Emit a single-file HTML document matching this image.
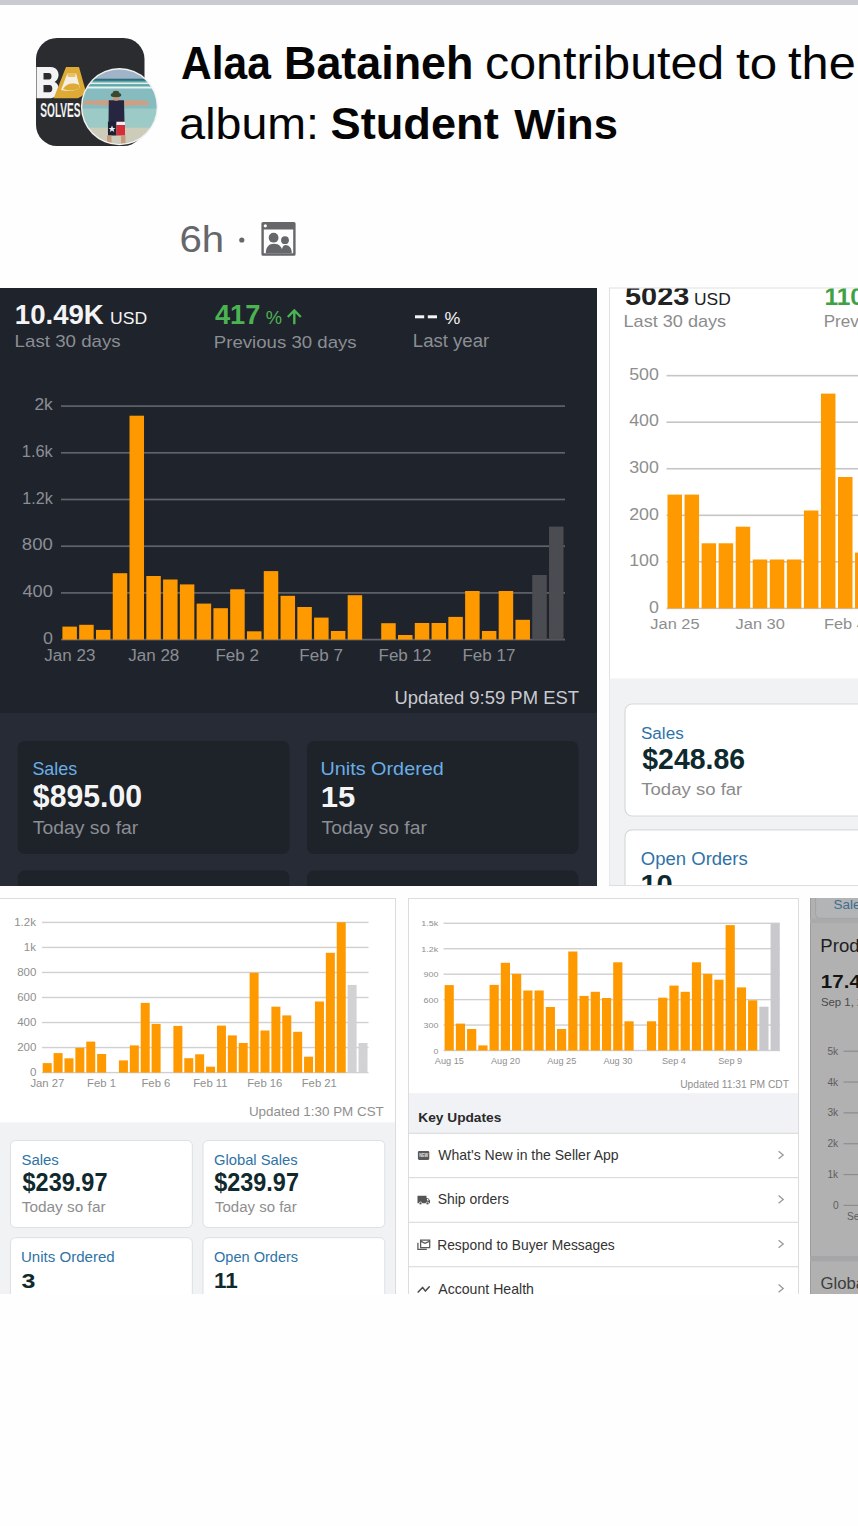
<!DOCTYPE html><html><head><meta charset="utf-8"><style>
html,body{margin:0;padding:0;width:858px;height:1526px;overflow:hidden;background:#fefefe;font-family:"Liberation Sans", sans-serif;}
svg{position:absolute;left:0;top:0;}
text{font-family:"Liberation Sans", sans-serif;}
</style></head><body>
<svg width="858" height="1526" viewBox="0 0 858 1526">
<rect x="0" y="0" width="858" height="5" fill="#c9cbd1"/>

<g id="avatar">
<rect x="36" y="38" width="108.5" height="108" rx="21" fill="#2b2c2f"/>
<path d="M36.5 67 H50.5 C57.5 67 59 73 58.5 76 C58 79 56.5 81 54.5 82 C57.5 83 59 86.5 58.6 90 C58 95 55 98.3 49 98.3 H36.5Z M43.5 73 V79.5 H49 C51 79.5 51.5 78 51.5 76.3 C51.5 74.5 50.8 73 49 73Z M43.5 85 V92.3 H49.5 C51.8 92.3 52.3 90.5 52.3 88.6 C52.3 86.6 51.5 85 49.5 85Z" fill="#f3f3f3" fill-rule="evenodd"/>
<path d="M53.7 98.3 L66 67 H79 L86 92 L82 96 L78 98.3Z" fill="#dcaa35"/>
<path d="M61 90 L67.5 73 H76 L80 88 C76 91 66 91.5 61 90Z" fill="#f4efe2"/>
<path d="M63 89 C66 84 72 82 79 85 L80 88.5 C74 91 67 91 63 89Z" fill="#dcaa35"/>
<path d="M67 73 H76 L75 77 H68Z" fill="#e6c06a"/>
<text transform="translate(40.30,117.10) scale(0.5094,1)" font-size="19.86" font-weight="bold" fill="#f2f2f2" >SOLVES</text>
<circle cx="119.5" cy="106.7" r="38.6" fill="#f2f2f2"/>
<clipPath id="cp1"><circle cx="119.5" cy="106.7" r="37.2"/></clipPath>
<filter id="soft" x="-5%" y="-5%" width="110%" height="110%"><feGaussianBlur stdDeviation="0.55"/></filter>
<g clip-path="url(#cp1)"><g filter="url(#soft)">
<rect x="80" y="66" width="80" height="82" fill="#98c6c6"/>
<rect x="80" y="66" width="80" height="13" fill="#9fb4c8"/>
<rect x="80" y="78.7" width="80" height="2.2" fill="#2f6d79"/>
<rect x="80" y="80.9" width="80" height="7.6" fill="#5ea8a9"/>
<rect x="80" y="82.5" width="80" height="1.6" fill="#e4eeee"/>
<rect x="80" y="86.5" width="80" height="2.2" fill="#e8f1ef"/>
<rect x="80" y="88.7" width="80" height="20" fill="#86bcbf"/>
<rect x="80" y="108.7" width="80" height="19" fill="#9ccac6"/>
<rect x="80" y="127.6" width="80" height="20" fill="#cdcbb9"/>
<path d="M83 101 C95 100 105 100 112 100.5 L126 100.5 C135 100 145 100.5 149 101.5 L148.5 105 C140 105.5 130 105 125 106 L112 106 C105 105.5 95 104.5 83.5 104.5Z" fill="#cf9f84"/>
<path d="M108.8 100.2 H124 L124.5 122.7 H108.5Z" fill="#25283f"/>
<path d="M107.9 121.8 H116.5 V135.5 H108Z" fill="#1f2236"/>
<path d="M116.5 121.8 H125 L125 135.5 H116.5Z" fill="#d52f39"/>
<path d="M116.5 121.8 H125 V125 H116.5Z" fill="#f2f0f0"/>
<path d="M112 125.5 L113 128 L115.5 128 L113.5 129.5 L114.3 132 L112 130.5 L109.8 132 L110.6 129.5 L108.6 128 L111 128Z" fill="#f0f0f0"/>
<rect x="107" y="135.5" width="4.5" height="8" fill="#c79a7e"/>
<rect x="121" y="135.5" width="4.5" height="8" fill="#c79a7e"/>
<ellipse cx="116.2" cy="97.8" rx="3.4" ry="3" fill="#c79a7e"/>
<ellipse cx="116" cy="95" rx="5.3" ry="2.2" fill="#3b4a30"/>
<ellipse cx="116" cy="93" rx="3.3" ry="2.2" fill="#3b4a30"/>
</g></g>
</g>
<text transform="translate(181.04,78.80) scale(0.9345,1)" font-size="45.52" font-weight="bold" fill="#050505" >Alaa</text>
<text transform="translate(283.98,78.80) scale(0.9856,1)" font-size="45.52" font-weight="bold" fill="#050505" >Bataineh</text>
<text transform="translate(485.02,78.80) scale(1.0624,1)" font-size="45.52" font-weight="normal" fill="#050505" >contributed</text>
<text transform="translate(736.06,78.80) scale(1.0950,1)" font-size="45.08" font-weight="normal" fill="#050505" >to</text>
<text transform="translate(788.07,78.80) scale(1.0688,1)" font-size="45.52" font-weight="normal" fill="#050505" >the</text>
<text transform="translate(179.31,138.50) scale(1.0476,1)" font-size="44.41" font-weight="normal" fill="#050505" >album:</text>
<text transform="translate(330.54,138.50) scale(1.0175,1)" font-size="44.41" font-weight="bold" fill="#050505" >Student</text>
<text transform="translate(514.30,138.50) scale(1.0318,1)" font-size="42.21" font-weight="bold" fill="#050505" >Wins</text>
<text transform="translate(179.39,252.00) scale(1.0998,1)" font-size="36.55" font-weight="normal" fill="#65676b" >6h</text>
<circle cx="241.8" cy="240" r="2.6" fill="#65676b"/>
<g id="albumicon" fill="#65676b">
<path d="M261.4 223.5 Q261.4 222 263 222 H294 Q295.6 222 295.6 223.5 V254.2 Q295.6 255.7 294 255.7 H263 Q261.4 255.7 261.4 254.2 Z M263.8 229.6 V253.3 H293.2 V229.6 Z" fill-rule="evenodd"/>
<circle cx="265.3" cy="225.8" r="1.6" fill="#fdfdfd"/>
<circle cx="273.6" cy="237.7" r="4.9"/><circle cx="285" cy="240.2" r="3.9"/>
<path d="M265.8 253.3 C265.8 247 269 243.8 274 243.8 C279 243.8 282.6 247 282.6 253.3Z"/>
<path d="M281.6 253.3 C281.6 248 283 245 285.5 245 C289 245 291.8 248 291.8 253.3Z"/>
</g>
<svg x="0" y="288" width="597" height="598"><g transform="translate(0,-288)">
<rect x="0" y="288" width="597" height="598" fill="#1f232b"/>
<rect x="0" y="713" width="597" height="173" fill="#262b35"/>
<text transform="translate(14.81,323.80) scale(1.0272,1)" font-size="26.86" font-weight="bold" fill="#f4f4f5" >10.49K</text>
<text transform="translate(110.08,323.80) scale(1.0434,1)" font-size="16.86" font-weight="normal" fill="#f4f4f5" >USD</text>
<text transform="translate(14.60,347.20) scale(1.1035,1)" font-size="16.97" font-weight="normal" fill="#8b8e94" >Last 30 days</text>
<text transform="translate(214.89,324.30) scale(0.9910,1)" font-size="27.54" font-weight="bold" fill="#4cb353" >417</text>
<text transform="translate(265.86,324.30) scale(1.0171,1)" font-size="17.99" font-weight="normal" fill="#4cb353" >%</text>
<path d="M294.3 310.5 V324.3 M287.8 317 L294.3 310.5 L300.8 317" stroke="#4cb353" stroke-width="2.4" fill="none"/>
<text transform="translate(213.81,347.50) scale(1.0802,1)" font-size="17.24" font-weight="normal" fill="#8b8e94" >Previous 30 days</text>
<rect x="415" y="315.3" width="9.2" height="3" fill="#f4f4f5"/><rect x="427.8" y="315.3" width="9.2" height="3" fill="#f4f4f5"/>
<text transform="translate(444.58,324.00) scale(1.0227,1)" font-size="17.41" font-weight="normal" fill="#f4f4f5" >%</text>
<text transform="translate(412.81,347.40) scale(1.0509,1)" font-size="17.68" font-weight="normal" fill="#8b8e94" >Last year</text>
<rect x="61" y="405.25" width="504" height="1.7" fill="#606369"/>
<rect x="61" y="451.95" width="504" height="1.7" fill="#606369"/>
<rect x="61" y="498.65" width="504" height="1.7" fill="#606369"/>
<rect x="61" y="545.35" width="504" height="1.7" fill="#606369"/>
<rect x="61" y="592.05" width="504" height="1.7" fill="#606369"/>
<rect x="61" y="638.75" width="504" height="1.7" fill="#606369"/>
<text transform="translate(34.43,409.90) scale(1.0978,1)" font-size="15.86" font-weight="normal" fill="#8b8e94" >2k</text>
<text transform="translate(21.77,456.80) scale(1.0262,1)" font-size="16.00" font-weight="normal" fill="#8b8e94" >1.6k</text>
<text transform="translate(22.19,503.50) scale(1.0212,1)" font-size="15.86" font-weight="normal" fill="#8b8e94" >1.2k</text>
<text transform="translate(21.86,550.00) scale(1.1326,1)" font-size="16.43" font-weight="normal" fill="#8b8e94" >800</text>
<text transform="translate(22.44,596.80) scale(1.1760,1)" font-size="15.57" font-weight="normal" fill="#8b8e94" >400</text>
<text transform="translate(42.98,643.90) scale(1.0988,1)" font-size="16.29" font-weight="normal" fill="#8b8e94" >0</text>
<rect x="62.40" y="626.60" width="14.5" height="13.00" fill="#ff9900"/>
<rect x="79.18" y="624.80" width="14.5" height="14.80" fill="#ff9900"/>
<rect x="95.96" y="629.90" width="14.5" height="9.70" fill="#ff9900"/>
<rect x="112.74" y="573.20" width="14.5" height="66.40" fill="#ff9900"/>
<rect x="129.52" y="415.70" width="14.5" height="223.90" fill="#ff9900"/>
<rect x="146.30" y="576.00" width="14.5" height="63.60" fill="#ff9900"/>
<rect x="163.08" y="579.50" width="14.5" height="60.10" fill="#ff9900"/>
<rect x="179.86" y="584.40" width="14.5" height="55.20" fill="#ff9900"/>
<rect x="196.64" y="603.60" width="14.5" height="36.00" fill="#ff9900"/>
<rect x="213.42" y="608.20" width="14.5" height="31.40" fill="#ff9900"/>
<rect x="230.20" y="589.30" width="14.5" height="50.30" fill="#ff9900"/>
<rect x="246.98" y="631.30" width="14.5" height="8.30" fill="#ff9900"/>
<rect x="263.76" y="571.10" width="14.5" height="68.50" fill="#ff9900"/>
<rect x="280.54" y="595.80" width="14.5" height="43.80" fill="#ff9900"/>
<rect x="297.32" y="607.00" width="14.5" height="32.60" fill="#ff9900"/>
<rect x="314.10" y="617.60" width="14.5" height="22.00" fill="#ff9900"/>
<rect x="330.88" y="631.00" width="14.5" height="8.60" fill="#ff9900"/>
<rect x="347.66" y="595.20" width="14.5" height="44.40" fill="#ff9900"/>
<rect x="381.22" y="623.20" width="14.5" height="16.40" fill="#ff9900"/>
<rect x="398.00" y="635.00" width="14.5" height="4.60" fill="#ff9900"/>
<rect x="414.78" y="623.00" width="14.5" height="16.60" fill="#ff9900"/>
<rect x="431.56" y="623.00" width="14.5" height="16.60" fill="#ff9900"/>
<rect x="448.34" y="616.90" width="14.5" height="22.70" fill="#ff9900"/>
<rect x="465.12" y="591.00" width="14.5" height="48.60" fill="#ff9900"/>
<rect x="481.90" y="631.00" width="14.5" height="8.60" fill="#ff9900"/>
<rect x="498.68" y="591.00" width="14.5" height="48.60" fill="#ff9900"/>
<rect x="515.46" y="619.80" width="14.5" height="19.80" fill="#ff9900"/>
<rect x="532.24" y="575.00" width="14.5" height="64.60" fill="#4b4c51"/>
<rect x="549.02" y="526.60" width="14.5" height="113.00" fill="#4b4c51"/>
<text transform="translate(44.34,660.70) scale(1.0944,1)" font-size="15.57" font-weight="normal" fill="#8b8e94" >Jan 23</text>
<text transform="translate(128.20,660.70) scale(1.0944,1)" font-size="15.57" font-weight="normal" fill="#8b8e94" >Jan 28</text>
<text transform="translate(215.42,660.70) scale(1.0944,1)" font-size="15.57" font-weight="normal" fill="#8b8e94" >Feb 2</text>
<text transform="translate(299.32,660.70) scale(1.0944,1)" font-size="15.57" font-weight="normal" fill="#8b8e94" >Feb 7</text>
<text transform="translate(378.50,660.70) scale(1.0944,1)" font-size="15.57" font-weight="normal" fill="#8b8e94" >Feb 12</text>
<text transform="translate(462.40,660.70) scale(1.0944,1)" font-size="15.57" font-weight="normal" fill="#8b8e94" >Feb 17</text>
<text transform="translate(394.52,703.60) scale(0.9833,1)" font-size="18.76" font-weight="normal" fill="#c9cbd0" >Updated 9:59 PM EST</text>
<rect x="17.7" y="741" width="271.8" height="113" rx="7" fill="#1e2229"/>
<rect x="17.7" y="870.6" width="271.8" height="40" rx="7" fill="#1e2229"/>
<rect x="307" y="741" width="271.4" height="113" rx="7" fill="#1e2229"/>
<rect x="307" y="870.6" width="271.4" height="40" rx="7" fill="#1e2229"/>
<text transform="translate(32.39,775.00) scale(0.9609,1)" font-size="18.62" font-weight="normal" fill="#6aaee6" >Sales</text>
<text transform="translate(32.85,806.80) scale(0.9518,1)" font-size="31.76" font-weight="bold" fill="#f4f4f5" >$895.00</text>
<text transform="translate(32.72,833.90) scale(1.1069,1)" font-size="17.52" font-weight="normal" fill="#8b8e94" >Today so far</text>
<text transform="translate(320.51,775.00) scale(1.0635,1)" font-size="18.62" font-weight="normal" fill="#6aaee6" >Units Ordered</text>
<text transform="translate(320.78,806.80) scale(1.0512,1)" font-size="29.57" font-weight="bold" fill="#f4f4f5" >15</text>
<text transform="translate(321.52,833.90) scale(1.1048,1)" font-size="17.52" font-weight="normal" fill="#8b8e94" >Today so far</text>
</g></svg>
<rect x="609.5" y="288" width="260" height="597.5" fill="#ffffff" stroke="#e0e0e0" stroke-width="1"/>
<svg x="609.5" y="288.5" width="260" height="597"><g transform="translate(-609.5,-288.5)">
<rect x="609" y="678.4" width="260" height="208" fill="#f1f2f4"/>
<text transform="translate(625.03,305.20) scale(1.1235,1)" font-size="25.71" font-weight="bold" fill="#222222" >5023</text>
<text transform="translate(693.99,305.20) scale(1.0614,1)" font-size="16.43" font-weight="normal" fill="#222222" >USD</text>
<text transform="translate(623.55,327.00) scale(1.1222,1)" font-size="16.14" font-weight="normal" fill="#8c8c8c" >Last 30 days</text>
<text transform="translate(824.41,305.20) scale(1.0000,1)" font-size="24.50" font-weight="bold" fill="#3fa145" >110</text>
<text transform="translate(823.63,327.20) scale(1.0300,1)" font-size="16.60" font-weight="normal" fill="#8c8c8c" >Previous 30 days</text>
<rect x="666.5" y="374.85" width="200" height="1.6" fill="#c6c6c6"/>
<rect x="666.5" y="421.40" width="200" height="1.6" fill="#c6c6c6"/>
<rect x="666.5" y="467.95" width="200" height="1.6" fill="#c6c6c6"/>
<rect x="666.5" y="514.50" width="200" height="1.6" fill="#c6c6c6"/>
<rect x="666.5" y="561.05" width="200" height="1.6" fill="#c6c6c6"/>
<rect x="666.5" y="607.60" width="200" height="1.6" fill="#c6c6c6"/>
<text transform="translate(629.19,379.85) scale(1.1426,1)" font-size="15.57" font-weight="normal" fill="#8e8e8e" >500</text>
<text transform="translate(629.19,426.40) scale(1.1426,1)" font-size="15.57" font-weight="normal" fill="#8e8e8e" >400</text>
<text transform="translate(629.19,472.95) scale(1.1426,1)" font-size="15.57" font-weight="normal" fill="#8e8e8e" >300</text>
<text transform="translate(629.19,519.50) scale(1.1426,1)" font-size="15.57" font-weight="normal" fill="#8e8e8e" >200</text>
<text transform="translate(629.19,566.05) scale(1.1426,1)" font-size="15.57" font-weight="normal" fill="#8e8e8e" >100</text>
<text transform="translate(648.94,612.60) scale(1.1426,1)" font-size="15.57" font-weight="normal" fill="#8e8e8e" >0</text>
<rect x="667.50" y="494.60" width="14.5" height="113.80" fill="#ff9900"/>
<rect x="684.55" y="494.60" width="14.5" height="113.80" fill="#ff9900"/>
<rect x="701.60" y="543.30" width="14.5" height="65.10" fill="#ff9900"/>
<rect x="718.65" y="543.30" width="14.5" height="65.10" fill="#ff9900"/>
<rect x="735.70" y="526.70" width="14.5" height="81.70" fill="#ff9900"/>
<rect x="752.75" y="559.50" width="14.5" height="48.90" fill="#ff9900"/>
<rect x="769.80" y="559.50" width="14.5" height="48.90" fill="#ff9900"/>
<rect x="786.85" y="559.50" width="14.5" height="48.90" fill="#ff9900"/>
<rect x="803.90" y="510.50" width="14.5" height="97.90" fill="#ff9900"/>
<rect x="820.95" y="393.60" width="14.5" height="214.80" fill="#ff9900"/>
<rect x="838.00" y="477.00" width="14.5" height="131.40" fill="#ff9900"/>
<rect x="855.05" y="552.60" width="14.5" height="55.80" fill="#ff9900"/>
<text transform="translate(650.35,629.00) scale(1.1367,1)" font-size="14.43" font-weight="normal" fill="#8e8e8e" >Jan 25</text>
<text transform="translate(735.60,629.00) scale(1.1367,1)" font-size="14.43" font-weight="normal" fill="#8e8e8e" >Jan 30</text>
<text transform="translate(823.89,629.00) scale(1.1367,1)" font-size="14.43" font-weight="normal" fill="#8e8e8e" >Feb 4</text>
<rect x="625" y="704" width="260" height="112" rx="7" fill="#ffffff" stroke="#d6d9dc" stroke-width="1.2"/>
<rect x="625" y="829.8" width="260" height="100" rx="7" fill="#ffffff" stroke="#d6d9dc" stroke-width="1.2"/>
<text transform="translate(640.93,738.50) scale(1.0166,1)" font-size="16.83" font-weight="normal" fill="#2f72a8" >Sales</text>
<text transform="translate(642.27,768.70) scale(0.9567,1)" font-size="29.73" font-weight="bold" fill="#0f2a2e" >$248.86</text>
<text transform="translate(641.24,795.00) scale(1.0678,1)" font-size="17.38" font-weight="normal" fill="#8a8a8a" >Today so far</text>
<text transform="translate(640.87,864.50) scale(0.9654,1)" font-size="19.17" font-weight="normal" fill="#2f72a8" >Open Orders</text>
<text transform="translate(640.41,893.90) scale(1.0761,1)" font-size="27.00" font-weight="bold" fill="#0f2a2e" >10</text>
</g></svg>
<rect x="609" y="885" width="249" height="1" fill="#dedede"/>
<svg x="0" y="898" width="396" height="396"><g transform="translate(0,-898)">
<rect x="-1" y="898.5" width="396.5" height="400" fill="#ffffff" stroke="#dcdcdc" stroke-width="1"/>
<rect x="0" y="1122.4" width="395" height="180" fill="#f0f2f4"/>
<rect x="42" y="921.70" width="326.5" height="1.4" fill="#d0d0d0"/>
<rect x="42" y="946.73" width="326.5" height="1.4" fill="#d0d0d0"/>
<rect x="42" y="971.76" width="326.5" height="1.4" fill="#d0d0d0"/>
<rect x="42" y="996.79" width="326.5" height="1.4" fill="#d0d0d0"/>
<rect x="42" y="1021.82" width="326.5" height="1.4" fill="#d0d0d0"/>
<rect x="42" y="1046.85" width="326.5" height="1.4" fill="#d0d0d0"/>
<rect x="42" y="1071.88" width="326.5" height="1.4" fill="#d0d0d0"/>
<text transform="translate(14.13,925.90) scale(1.0610,1)" font-size="10.86" font-weight="normal" fill="#8f8f8f" >1.2k</text>
<text transform="translate(23.75,950.93) scale(1.0610,1)" font-size="10.86" font-weight="normal" fill="#8f8f8f" >1k</text>
<text transform="translate(17.18,975.96) scale(1.0610,1)" font-size="10.86" font-weight="normal" fill="#8f8f8f" >800</text>
<text transform="translate(17.18,1000.99) scale(1.0610,1)" font-size="10.86" font-weight="normal" fill="#8f8f8f" >600</text>
<text transform="translate(17.18,1026.02) scale(1.0610,1)" font-size="10.86" font-weight="normal" fill="#8f8f8f" >400</text>
<text transform="translate(17.18,1051.05) scale(1.0610,1)" font-size="10.86" font-weight="normal" fill="#8f8f8f" >200</text>
<text transform="translate(29.97,1076.08) scale(1.0610,1)" font-size="10.86" font-weight="normal" fill="#8f8f8f" >0</text>
<rect x="42.70" y="1063.10" width="9.0" height="9.50" fill="#ff9900"/>
<rect x="53.59" y="1053.10" width="9.0" height="19.50" fill="#ff9900"/>
<rect x="64.48" y="1058.30" width="9.0" height="14.30" fill="#ff9900"/>
<rect x="75.37" y="1047.80" width="9.0" height="24.80" fill="#ff9900"/>
<rect x="86.26" y="1041.60" width="9.0" height="31.00" fill="#ff9900"/>
<rect x="97.15" y="1054.00" width="9.0" height="18.60" fill="#ff9900"/>
<rect x="118.93" y="1060.40" width="9.0" height="12.20" fill="#ff9900"/>
<rect x="129.82" y="1045.40" width="9.0" height="27.20" fill="#ff9900"/>
<rect x="140.71" y="1002.90" width="9.0" height="69.70" fill="#ff9900"/>
<rect x="151.60" y="1023.90" width="9.0" height="48.70" fill="#ff9900"/>
<rect x="173.38" y="1025.90" width="9.0" height="46.70" fill="#ff9900"/>
<rect x="184.27" y="1058.20" width="9.0" height="14.40" fill="#ff9900"/>
<rect x="195.16" y="1054.30" width="9.0" height="18.30" fill="#ff9900"/>
<rect x="206.05" y="1066.70" width="9.0" height="5.90" fill="#ff9900"/>
<rect x="216.94" y="1025.60" width="9.0" height="47.00" fill="#ff9900"/>
<rect x="227.83" y="1035.40" width="9.0" height="37.20" fill="#ff9900"/>
<rect x="238.72" y="1043.00" width="9.0" height="29.60" fill="#ff9900"/>
<rect x="249.61" y="972.80" width="9.0" height="99.80" fill="#ff9900"/>
<rect x="260.50" y="1030.50" width="9.0" height="42.10" fill="#ff9900"/>
<rect x="271.39" y="1006.70" width="9.0" height="65.90" fill="#ff9900"/>
<rect x="282.28" y="1015.40" width="9.0" height="57.20" fill="#ff9900"/>
<rect x="293.17" y="1031.80" width="9.0" height="40.80" fill="#ff9900"/>
<rect x="304.06" y="1056.70" width="9.0" height="15.90" fill="#ff9900"/>
<rect x="314.95" y="1001.50" width="9.0" height="71.10" fill="#ff9900"/>
<rect x="325.84" y="952.80" width="9.0" height="119.80" fill="#ff9900"/>
<rect x="336.73" y="922.30" width="9.0" height="150.30" fill="#ff9900"/>
<rect x="347.62" y="984.90" width="9.0" height="87.70" fill="#d2d2d4"/>
<rect x="358.51" y="1043.00" width="9.0" height="29.60" fill="#d2d2d4"/>
<text transform="translate(30.43,1087.30) scale(1.0419,1)" font-size="10.86" font-weight="normal" fill="#8f8f8f" >Jan 27</text>
<text transform="translate(87.03,1087.30) scale(1.0419,1)" font-size="10.86" font-weight="normal" fill="#8f8f8f" >Feb 1</text>
<text transform="translate(141.45,1087.30) scale(1.0419,1)" font-size="10.86" font-weight="normal" fill="#8f8f8f" >Feb 6</text>
<text transform="translate(193.19,1087.30) scale(1.0419,1)" font-size="10.86" font-weight="normal" fill="#8f8f8f" >Feb 11</text>
<text transform="translate(247.21,1087.30) scale(1.0419,1)" font-size="10.86" font-weight="normal" fill="#8f8f8f" >Feb 16</text>
<text transform="translate(301.69,1087.30) scale(1.0419,1)" font-size="10.86" font-weight="normal" fill="#8f8f8f" >Feb 21</text>
<text transform="translate(248.89,1116.30) scale(1.0348,1)" font-size="12.97" font-weight="normal" fill="#8f8f8f" >Updated 1:30 PM CST</text>
<rect x="10.5" y="1140.5" width="181.8" height="87" rx="5" fill="#ffffff" stroke="#dde0e3" stroke-width="1"/>
<rect x="10.5" y="1237.7" width="181.8" height="87" rx="5" fill="#ffffff" stroke="#dde0e3" stroke-width="1"/>
<rect x="203" y="1140.5" width="181.8" height="87" rx="5" fill="#ffffff" stroke="#dde0e3" stroke-width="1"/>
<rect x="203" y="1237.7" width="181.8" height="87" rx="5" fill="#ffffff" stroke="#dde0e3" stroke-width="1"/>
<text transform="translate(21.43,1165.40) scale(1.0529,1)" font-size="14.21" font-weight="normal" fill="#2e73a6" >Sales</text>
<text transform="translate(22.55,1191.20) scale(0.9356,1)" font-size="25.14" font-weight="bold" fill="#10292d" >$239.97</text>
<text transform="translate(21.71,1211.50) scale(1.0641,1)" font-size="14.48" font-weight="normal" fill="#8e8e8e" >Today so far</text>
<text transform="translate(20.97,1262.40) scale(1.0116,1)" font-size="14.90" font-weight="normal" fill="#2e73a6" >Units Ordered</text>
<text transform="translate(21.47,1288.00) scale(1.1929,1)" font-size="21.00" font-weight="bold" fill="#10292d" >3</text>
<text transform="translate(213.96,1165.20) scale(1.0603,1)" font-size="13.93" font-weight="normal" fill="#2e73a6" >Global Sales</text>
<text transform="translate(214.35,1191.20) scale(0.9311,1)" font-size="25.14" font-weight="bold" fill="#10292d" >$239.97</text>
<text transform="translate(215.02,1211.50) scale(1.0360,1)" font-size="14.48" font-weight="normal" fill="#8e8e8e" >Today so far</text>
<text transform="translate(214.05,1262.40) scale(0.9763,1)" font-size="14.90" font-weight="normal" fill="#2e73a6" >Open Orders</text>
<text transform="translate(213.94,1287.60) scale(1.0075,1)" font-size="22.32" font-weight="bold" fill="#10292d" >11</text>
</g></svg>
<svg x="408" y="898" width="391" height="396"><g transform="translate(-408,-898)">
<rect x="408.5" y="898.5" width="390" height="400" fill="#ffffff" stroke="#dcdcdc" stroke-width="1"/>
<rect x="443.5" y="922.60" width="336.5" height="1.4" fill="#d0d0d0"/>
<rect x="443.5" y="948.04" width="336.5" height="1.4" fill="#d0d0d0"/>
<rect x="443.5" y="973.48" width="336.5" height="1.4" fill="#d0d0d0"/>
<rect x="443.5" y="998.92" width="336.5" height="1.4" fill="#d0d0d0"/>
<rect x="443.5" y="1024.36" width="336.5" height="1.4" fill="#d0d0d0"/>
<rect x="443.5" y="1049.80" width="336.5" height="1.4" fill="#d0d0d0"/>
<text transform="translate(421.23,926.30) scale(1.1226,1)" font-size="8.00" font-weight="normal" fill="#8f8f8f" >1.5k</text>
<text transform="translate(421.23,951.74) scale(1.1226,1)" font-size="8.00" font-weight="normal" fill="#8f8f8f" >1.2k</text>
<text transform="translate(423.61,977.18) scale(1.1226,1)" font-size="8.00" font-weight="normal" fill="#8f8f8f" >900</text>
<text transform="translate(423.61,1002.62) scale(1.1226,1)" font-size="8.00" font-weight="normal" fill="#8f8f8f" >600</text>
<text transform="translate(423.61,1028.06) scale(1.1226,1)" font-size="8.00" font-weight="normal" fill="#8f8f8f" >300</text>
<text transform="translate(433.57,1053.50) scale(1.1226,1)" font-size="8.00" font-weight="normal" fill="#8f8f8f" >0</text>
<rect x="444.60" y="985.10" width="9.2" height="65.40" fill="#ff9900"/>
<rect x="455.84" y="1023.60" width="9.2" height="26.90" fill="#ff9900"/>
<rect x="467.08" y="1029.00" width="9.2" height="21.50" fill="#ff9900"/>
<rect x="478.32" y="1045.40" width="9.2" height="5.10" fill="#ff9900"/>
<rect x="489.56" y="984.90" width="9.2" height="65.60" fill="#ff9900"/>
<rect x="500.80" y="962.80" width="9.2" height="87.70" fill="#ff9900"/>
<rect x="512.04" y="973.80" width="9.2" height="76.70" fill="#ff9900"/>
<rect x="523.28" y="990.50" width="9.2" height="60.00" fill="#ff9900"/>
<rect x="534.52" y="990.50" width="9.2" height="60.00" fill="#ff9900"/>
<rect x="545.76" y="1007.00" width="9.2" height="43.50" fill="#ff9900"/>
<rect x="557.00" y="1029.00" width="9.2" height="21.50" fill="#ff9900"/>
<rect x="568.24" y="951.50" width="9.2" height="99.00" fill="#ff9900"/>
<rect x="579.48" y="995.90" width="9.2" height="54.60" fill="#ff9900"/>
<rect x="590.72" y="991.80" width="9.2" height="58.70" fill="#ff9900"/>
<rect x="601.96" y="998.00" width="9.2" height="52.50" fill="#ff9900"/>
<rect x="613.20" y="962.30" width="9.2" height="88.20" fill="#ff9900"/>
<rect x="624.44" y="1021.30" width="9.2" height="29.20" fill="#ff9900"/>
<rect x="646.92" y="1021.30" width="9.2" height="29.20" fill="#ff9900"/>
<rect x="658.16" y="997.70" width="9.2" height="52.80" fill="#ff9900"/>
<rect x="669.40" y="985.60" width="9.2" height="64.90" fill="#ff9900"/>
<rect x="680.64" y="991.80" width="9.2" height="58.70" fill="#ff9900"/>
<rect x="691.88" y="962.30" width="9.2" height="88.20" fill="#ff9900"/>
<rect x="703.12" y="973.80" width="9.2" height="76.70" fill="#ff9900"/>
<rect x="714.36" y="979.70" width="9.2" height="70.80" fill="#ff9900"/>
<rect x="725.60" y="925.10" width="9.2" height="125.40" fill="#ff9900"/>
<rect x="736.84" y="987.40" width="9.2" height="63.10" fill="#ff9900"/>
<rect x="748.08" y="1000.30" width="9.2" height="50.20" fill="#ff9900"/>
<rect x="759.32" y="1006.70" width="9.2" height="43.80" fill="#c9c9cd"/>
<rect x="770.56" y="923.30" width="9.2" height="127.20" fill="#c9c9cd"/>
<text transform="translate(434.80,1063.80) scale(1.0059,1)" font-size="9.13" font-weight="normal" fill="#8f8f8f" >Aug 15</text>
<text transform="translate(491.00,1063.80) scale(1.0059,1)" font-size="9.13" font-weight="normal" fill="#8f8f8f" >Aug 20</text>
<text transform="translate(547.20,1063.80) scale(1.0059,1)" font-size="9.13" font-weight="normal" fill="#8f8f8f" >Aug 25</text>
<text transform="translate(603.40,1063.80) scale(1.0059,1)" font-size="9.13" font-weight="normal" fill="#8f8f8f" >Aug 30</text>
<text transform="translate(661.95,1063.80) scale(1.0059,1)" font-size="9.13" font-weight="normal" fill="#8f8f8f" >Sep 4</text>
<text transform="translate(718.21,1063.80) scale(1.0059,1)" font-size="9.13" font-weight="normal" fill="#8f8f8f" >Sep 9</text>
<text transform="translate(680.13,1087.70) scale(0.9560,1)" font-size="10.76" font-weight="normal" fill="#8f8f8f" >Updated 11:31 PM CDT</text>
<rect x="409" y="1093.1" width="389" height="40.2" fill="#f1f2f5"/>
<text transform="translate(418.31,1122.00) scale(1.0250,1)" font-size="13.38" font-weight="bold" fill="#2a2a2a" >Key Updates</text>
<rect x="409" y="1132.70" width="389" height="1.2" fill="#dcdcdc"/>
<rect x="409" y="1177.00" width="389" height="1.2" fill="#dcdcdc"/>
<rect x="409" y="1221.70" width="389" height="1.2" fill="#dcdcdc"/>
<rect x="409" y="1266.10" width="389" height="1.2" fill="#dcdcdc"/>
<text transform="translate(438.23,1160.30) scale(0.9883,1)" font-size="14.21" font-weight="normal" fill="#333333" >What's New in the Seller App</text>
<text transform="translate(437.67,1204.40) scale(0.9814,1)" font-size="14.21" font-weight="normal" fill="#333333" >Ship orders</text>
<text transform="translate(437.19,1249.50) scale(0.9741,1)" font-size="14.21" font-weight="normal" fill="#333333" >Respond to Buyer Messages</text>
<text transform="translate(438.23,1293.90) scale(0.9934,1)" font-size="14.21" font-weight="normal" fill="#333333" >Account Health</text>
<path d="M778.6 1151.2 L783.2 1155.0 L778.6 1158.8" stroke="#9a9a9a" stroke-width="1.3" fill="none"/>
<path d="M778.6 1195.6 L783.2 1199.4 L778.6 1203.2" stroke="#9a9a9a" stroke-width="1.3" fill="none"/>
<path d="M778.6 1240.2 L783.2 1244.0 L778.6 1247.8" stroke="#9a9a9a" stroke-width="1.3" fill="none"/>
<path d="M778.6 1284.6 L783.2 1288.4 L778.6 1292.2" stroke="#9a9a9a" stroke-width="1.3" fill="none"/>
<rect x="417.9" y="1151.1" width="11.4" height="8.8" rx="1.3" fill="#5a5a5a"/><text transform="translate(419.2,1157.2) scale(0.82,1)" font-size="4.6" font-weight="bold" fill="#e8e8e8">NEW</text>
<path d="M417.5 1195.8 H426.5 V1198 H428 L430 1200.5 V1203.2 H417.5Z" fill="#555"/><path d="M427 1198.8 H427.8 L429 1200.5 H427Z" fill="#fff"/><circle cx="420.5" cy="1203.4" r="1.4" fill="#555" stroke="#fff" stroke-width="0.7"/><circle cx="427.5" cy="1203.4" r="1.4" fill="#555" stroke="#fff" stroke-width="0.7"/>
<path d="M420.6 1240.2 H429.7 V1247.5 H420.6Z M421 1241.4 L425 1243.4 L429.3 1241.4 M417.9 1242.7 V1249.4 H426.8" stroke="#585858" stroke-width="1.25" fill="none"/>
<path d="M418.2 1292.1 L422.6 1287.4 L425.4 1291.1 L429.3 1286.8" stroke="#4a4a4a" stroke-width="1.5" fill="none" stroke-linecap="round" stroke-linejoin="round"/>
</g></svg>
<svg x="810" y="898" width="48" height="396"><g transform="translate(-810,-898)">
<rect x="810" y="898" width="60" height="396" fill="#b1b1b2"/>
<rect x="810" y="898" width="1" height="396" fill="#9c9c9c"/>
<rect x="815.6" y="880" width="60" height="38.3" rx="4" fill="#b3b4b6" stroke="#a2a3a5" stroke-width="1"/>
<rect x="810" y="918.5" width="60" height="4.5" fill="#a9aaac"/>
<text transform="translate(833.39,909.00) scale(1.0000,1)" font-size="13.50" font-weight="normal" fill="#3f6e8f" >Sales</text>
<text transform="translate(820.31,952.00) scale(1.0000,1)" font-size="18.60" font-weight="normal" fill="#1f1f1f" >Product</text>
<text transform="translate(820.86,988.00) scale(1.1500,1)" font-size="17.90" font-weight="bold" fill="#151515" >17.4k</text>
<text transform="translate(820.89,1005.60) scale(1.1200,1)" font-size="10.20" font-weight="normal" fill="#4a4a4a" >Sep 1, 2019</text>
<rect x="843.5" y="1050.60" width="30" height="1.2" fill="#8d8d8d"/>
<text transform="translate(827.44,1054.70) scale(1.0000,1)" font-size="10.20" font-weight="normal" fill="#5e5e5e" >5k</text>
<rect x="843.5" y="1081.44" width="30" height="1.2" fill="#8d8d8d"/>
<text transform="translate(827.44,1085.54) scale(1.0000,1)" font-size="10.20" font-weight="normal" fill="#5e5e5e" >4k</text>
<rect x="843.5" y="1112.28" width="30" height="1.2" fill="#8d8d8d"/>
<text transform="translate(827.44,1116.38) scale(1.0000,1)" font-size="10.20" font-weight="normal" fill="#5e5e5e" >3k</text>
<rect x="843.5" y="1143.12" width="30" height="1.2" fill="#8d8d8d"/>
<text transform="translate(827.44,1147.22) scale(1.0000,1)" font-size="10.20" font-weight="normal" fill="#5e5e5e" >2k</text>
<rect x="843.5" y="1173.96" width="30" height="1.2" fill="#8d8d8d"/>
<text transform="translate(827.44,1178.06) scale(1.0000,1)" font-size="10.20" font-weight="normal" fill="#5e5e5e" >1k</text>
<rect x="843.5" y="1204.80" width="30" height="1.2" fill="#8d8d8d"/>
<text transform="translate(832.95,1208.90) scale(1.0000,1)" font-size="10.20" font-weight="normal" fill="#5e5e5e" >0</text>
<text transform="translate(846.94,1219.90) scale(1.0000,1)" font-size="10.20" font-weight="normal" fill="#5e5e5e" >Sep</text>
<rect x="810" y="1256" width="60" height="5.4" fill="#a5a6a8"/>
<text transform="translate(820.46,1288.80) scale(1.0000,1)" font-size="16.70" font-weight="normal" fill="#3d3d3d" >Global</text>
</g></svg>
</svg></body></html>
